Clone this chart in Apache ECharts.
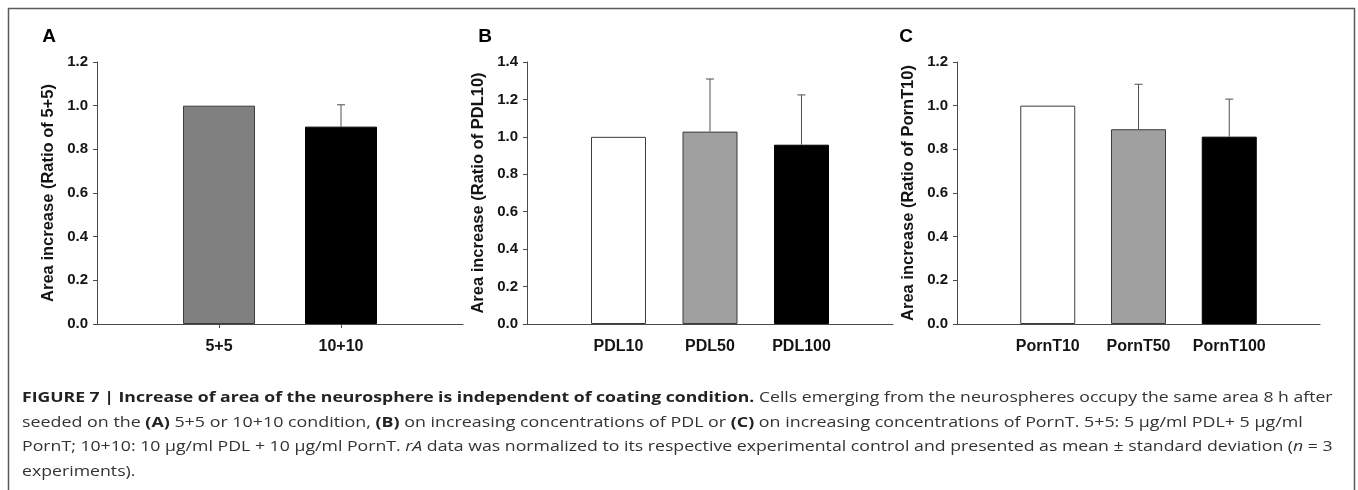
<!DOCTYPE html>
<html>
<head>
<meta charset="utf-8">
<script src="https://cdn.jsdelivr.net/npm/echarts@6/dist/echarts.min.js"></script>
<style>
  html, body { margin: 0; padding: 0; background: #fff; }
  #chart { width: 1358px; height: 490px; }
</style>
</head>
<body>
<div id="chart"></div>
<script>
// values (mean, upper SD)
const catsA = ['', '5+5', '10+10', ''];
const meanA = [null, 1.0, 0.904, null];
const sdA = [null, 0, 0.10, null];

const catsB = ['', 'PDL10', 'PDL50', 'PDL100', ''];
const meanB = [null, 1.0, 1.028, 0.958, null];
const sdB = [null, 0, 0.281, 0.266, null];

const catsC = ['', 'PornT10', 'PornT50', 'PornT100', ''];
const meanC = [null, 1.0, 0.892, 0.858, null];
const sdC = [null, 0, 0.206, 0.172, null];

const panelLetters = ['A', 'B', 'C'];
const yNames = ['Area increase (Ratio of 5+5)', 'Area increase (Ratio of PDL10)', 'Area increase (Ratio of PornT10)'];
const yMax = [1.2, 1.4, 1.2];

const captionLines = [
    '{b|FIGURE 7 | Increase of area of the neurosphere is independent of coating condition.}{r| Cells emerging from the neurospheres occupy the same area 8 h after}',
    '{r|seeded on the }{b|(A)}{r| 5+5 or 10+10 condition, }{b|(B)}{r| on increasing concentrations of PDL or }{b|(C)}{r| on increasing concentrations of PornT. 5+5: 5 μg/ml PDL+ 5 μg/ml}',
    '{r|PornT; 10+10: 10 μg/ml PDL + 10 μg/ml PornT. }{i|rA}{r| data was normalized to its respective experimental control and presented as mean ± standard deviation (}{i|n}{r| = 3}',
    '{r|experiments).}',
];

// styling
const fillA = [null, '#808080', '#000000', null];
const fillBC = [null, '#ffffff', '#a0a0a0', '#000000', null];
const axisColor = '#4a4a4a';
const textColor = '#141414';
const font = '"Liberation Sans", Arial, sans-serif';
const captionFont = '"Open Sans", sans-serif';
// the figure's caption face is wider than Open Sans, so each line is stretched
const captionStretch = [1.174, 1.19, 1.18, 1.18];

const grids = [
    { left: 97, top: 62, width: 366, height: 262 },
    { left: 527, top: 62, width: 366, height: 262 },
    { left: 957, top: 62, width: 363, height: 262 },
];
const letterX = [49, 485, 906];
const barWidths = [72, 55, 55];

const panels = [
    { cats: catsA, mean: meanA, sd: sdA, fill: fillA, ticks: true },
    { cats: catsB, mean: meanB, sd: sdB, fill: fillBC, ticks: false },
    { cats: catsC, mean: meanC, sd: sdC, fill: fillBC, ticks: false },
];

const errorBar = (params, api) => {
    const base = api.coord([api.value(0), api.value(1)]);
    const top = api.coord([api.value(0), api.value(1) + api.value(2)]);
    const style = { stroke: '#505050', lineWidth: 1 };
    return {
        type: 'group',
        children: [
            { type: 'line', shape: { x1: base[0], y1: base[1], x2: top[0], y2: top[1] }, style },
            { type: 'line', shape: { x1: top[0] - 4, y1: top[1], x2: top[0] + 4, y2: top[1] }, style },
        ],
    };
};

const xAxes = panels.map((p, i) => ({
    type: 'category',
    gridIndex: i,
    data: p.cats,
    boundaryGap: false,
    axisLine: { lineStyle: { color: axisColor, width: 1 } },
    axisTick: {
        show: p.ticks,
        length: 4,
        interval: (idx) => idx > 0 && idx < p.cats.length - 1,
        lineStyle: { color: axisColor },
    },
    axisLabel: { interval: 0, margin: 15, color: textColor, fontWeight: 'bold', fontSize: 16, fontFamily: font },
    splitLine: { show: false },
}));

const yAxes = panels.map((p, i) => ({
    type: 'value',
    gridIndex: i,
    min: 0,
    max: yMax[i],
    interval: 0.2,
    name: yNames[i],
    nameLocation: 'middle',
    nameGap: 40,
    nameTextStyle: { color: textColor, fontWeight: 'bold', fontSize: 16.5, fontFamily: font },
    axisLine: { show: true, lineStyle: { color: axisColor, width: 1 } },
    axisTick: { show: true, length: 4, lineStyle: { color: axisColor } },
    axisLabel: {
        margin: 9,
        color: textColor,
        fontWeight: 'bold',
        fontSize: 15,
        fontFamily: font,
        formatter: (v) => v.toFixed(1),
    },
    splitLine: { show: false },
}));

const series = [];
panels.forEach((p, i) => {
    series.push({
        type: 'bar',
        xAxisIndex: i,
        yAxisIndex: i,
        barWidth: barWidths[i],
        data: p.mean.map((v, k) => (v == null ? null : {
            value: v,
            itemStyle: { color: p.fill[k], borderColor: p.fill[k] === '#000000' ? '#000000' : '#3c3c3c', borderWidth: 1 },
        })),
        silent: true,
        z: 2,
    });
    series.push({
        type: 'custom',
        xAxisIndex: i,
        yAxisIndex: i,
        renderItem: errorBar,
        data: p.mean.map((v, k) => [k, v, p.sd[k]]).filter((d) => d[1] != null && d[2] > 0),
        silent: true,
        z: 3,
    });
});

const graphic = [
    {
        type: 'rect',
        shape: { x: 8.5, y: 8.5, width: 1346, height: 520 },
        style: { fill: 'none', stroke: '#5a5a5a', lineWidth: 1.5 },
        silent: true,
    },
    ...panelLetters.map((t, i) => ({
        type: 'text',
        style: {
            text: t, x: letterX[i], y: 37, align: 'center', verticalAlign: 'middle',
            fill: '#000', font: 'bold 19px ' + font,
        },
    })),
    ...captionLines.map((t, i) => ({
        type: 'text',
        x: 22,
        y: 398 + i * 24.5,
        scaleX: captionStretch[i],
        style: {
            text: t,
            x: 0,
            y: 0,
            verticalAlign: 'middle',
            rich: {
                b: { fontFamily: captionFont, fontWeight: 'bold', fontSize: 15, fill: '#222' },
                r: { fontFamily: captionFont, fontSize: 15, fill: '#333' },
                i: { fontFamily: captionFont, fontStyle: 'italic', fontSize: 15, fill: '#333' },
            },
        },
    })),
];

const chart = echarts.init(document.getElementById('chart'), null, { renderer: 'canvas' });
chart.setOption({
    backgroundColor: '#fff',
    animation: false,
    grid: grids,
    xAxis: xAxes,
    yAxis: yAxes,
    series,
    graphic,
});
</script>
</body>
</html>
